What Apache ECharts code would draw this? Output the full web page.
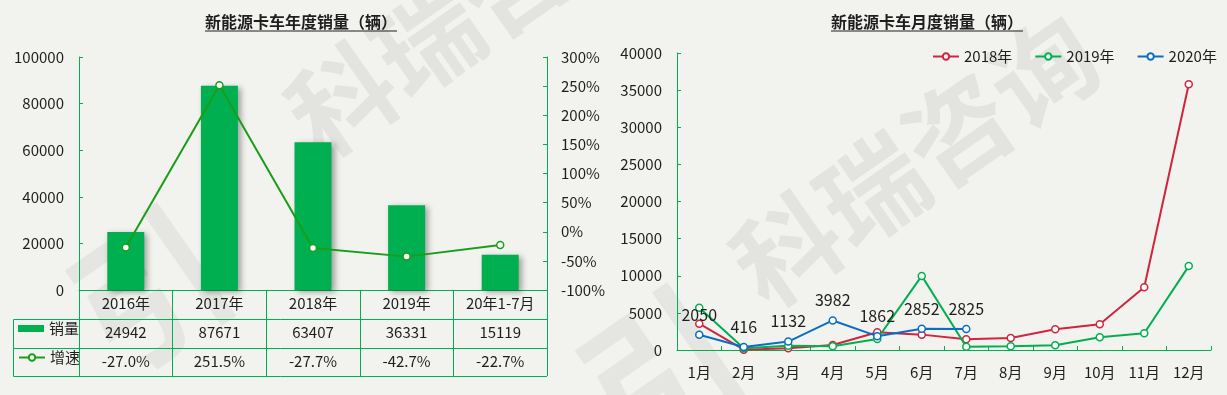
<!DOCTYPE html>
<html>
<head>
<meta charset="utf-8">
<script src="https://cdn.jsdelivr.net/npm/echarts@6/dist/echarts.min.js"></script>
<style>
html,body{margin:0;padding:0;background:#f2f3ee;}
#c{width:1227px;height:395px;}
</style>
</head>
<body>
<div id="c"></div>
<script>
// ---- data ----
const yearCats = ['2016年', '2017年', '2018年', '2019年', '20年1-7月'];
const yearSales = [24942, 87671, 63407, 36331, 15119];
const yearGrowth = [-27.0, 251.5, -27.7, -42.7, -22.7];
const leftTicks = { min: 0, max: 100000, interval: 20000 };
const rightTicks = { min: -100, max: 300, interval: 50 };

const months = ['1月', '2月', '3月', '4月', '5月', '6月', '7月', '8月', '9月', '10月', '11月', '12月'];
const sales2018 = [3550, 50, 230, 670, 2380, 2070, 1440, 1620, 2790, 3460, 8450, 35800];
const sales2019 = [5700, 230, 580, 500, 1480, 9980, 450, 490, 630, 1710, 2250, 11300];
const sales2020 = [2050, 416, 1132, 3982, 1862, 2852, 2825];
const monthTicks = { min: 0, max: 40000, interval: 5000 };

// ---- style ----
const FONT = '"Noto Sans CJK SC", "Noto Sans", sans-serif';
const GREEN = '#00b050';
const LINEGREEN = '#189e18';
const RED = '#d0243f';
const BLUE = '#0a6fc2';
const TXT = '#1e1e1e';

const chart = echarts.init(document.getElementById('c'), null, { renderer: 'canvas' });

const wmStyle = { fill: 'rgba(140,140,140,0.15)', fontSize: 104, fontWeight: 'bold', fontFamily: FONT, align: 'center', verticalAlign: 'middle' };
const logoStyle = Object.assign({}, wmStyle, { fontSize: 150, fill: 'rgba(140,140,140,0.12)' });

const tableLine = (x1, y1, x2, y2) => ({ type: 'line', silent: true, z: 10, shape: { x1, y1, x2, y2 }, style: { stroke: GREEN, lineWidth: 1 } });
const plain = v => String(v);

const option = {
  backgroundColor: '#f2f3ee',
  textStyle: { fontFamily: FONT },
  animation: false,
  graphic: [
    // watermarks
    { type: 'text', silent: true, z: 0, x: 470, y: 10, rotation: 0.61, style: Object.assign({ text: '科瑞咨询' }, wmStyle) },
    { type: 'text', silent: true, z: 0, x: 150, y: 290, rotation: 0.61, style: Object.assign({ text: '引' }, logoStyle) },
    { type: 'text', silent: true, z: 0, x: 915, y: 160, rotation: 0.61, style: Object.assign({ text: '科瑞咨询' }, wmStyle) },
    { type: 'text', silent: true, z: 0, x: 660, y: 370, rotation: 0.61, style: Object.assign({ text: '引' }, logoStyle) },
    // titles
    { type: 'text', z: 10, x: 301, y: 22, style: { text: '新能源卡车年度销量（辆）', fontSize: 16, fontWeight: 'bold', fill: TXT, fontFamily: FONT, align: 'center', verticalAlign: 'middle' } },
    { type: 'line', z: 10, shape: { x1: 205, y1: 31, x2: 397, y2: 31 }, style: { stroke: TXT, lineWidth: 1 } },
    { type: 'text', z: 10, x: 927, y: 22, style: { text: '新能源卡车月度销量（辆）', fontSize: 16, fontWeight: 'bold', fill: TXT, fontFamily: FONT, align: 'center', verticalAlign: 'middle' } },
    { type: 'line', z: 10, shape: { x1: 831, y1: 31, x2: 1023, y2: 31 }, style: { stroke: TXT, lineWidth: 1 } },
    // data table frame
    tableLine(13.5, 319.5, 547, 319.5),
    tableLine(13.5, 348.5, 547, 348.5),
    tableLine(13.5, 376.5, 547, 376.5),
    tableLine(13.5, 319.5, 13.5, 376.5)
  ],
  legend: [
    { data: [{ name: '销量', icon: 'rect' }], left: 18, top: 321, padding: 0, itemWidth: 26, itemHeight: 7, itemGap: 5,
      textStyle: { fontSize: 15, color: TXT, fontFamily: FONT } },
    { data: ['增速'], left: 18, top: 350, padding: 0, itemWidth: 26, itemHeight: 8,
      textStyle: { fontSize: 15, color: TXT, fontFamily: FONT } },
    { data: ['2018年', '2019年', '2020年'], left: 932, top: 49, padding: 0, itemWidth: 26, itemHeight: 8, itemGap: 22,
      textStyle: { fontSize: 15, color: TXT, fontFamily: FONT } }
  ],
  grid: [
    { left: 79, top: 57, width: 468, height: 233 },
    { left: 677, top: 53, width: 534, height: 297 }
  ],
  xAxis: [
    { gridIndex: 0, type: 'category', data: yearCats,
      axisLine: { lineStyle: { color: GREEN, width: 1 } },
      axisTick: { show: true, length: 86, lineStyle: { color: GREEN } },
      axisLabel: { margin: 6, fontSize: 15, color: TXT, interval: 0 } },
    { gridIndex: 0, type: 'category', data: yearSales.map(v => String(v)), position: 'bottom', offset: 29,
      axisLine: { show: false }, axisTick: { show: false },
      axisLabel: { margin: 6, fontSize: 15, color: TXT, interval: 0 } },
    { gridIndex: 0, type: 'category', data: yearGrowth.map(v => v.toFixed(1) + '%'), position: 'bottom', offset: 58,
      axisLine: { show: false }, axisTick: { show: false },
      axisLabel: { margin: 6, fontSize: 15, color: TXT, interval: 0 } },
    { gridIndex: 1, type: 'category', data: months,
      axisLine: { lineStyle: { color: GREEN, width: 1 } },
      axisTick: { show: true, inside: true, length: 4, lineStyle: { color: GREEN } },
      axisLabel: { margin: 15, fontSize: 15, color: TXT, interval: 0 } }
  ],
  yAxis: [
    { gridIndex: 0, type: 'value', min: leftTicks.min, max: leftTicks.max, interval: leftTicks.interval,
      axisLine: { show: true, lineStyle: { color: GREEN } },
      axisTick: { show: true, inside: true, length: 4, lineStyle: { color: GREEN } },
      splitLine: { show: false },
      axisLabel: { margin: 15, fontSize: 15, color: TXT, formatter: plain } },
    { gridIndex: 0, type: 'value', position: 'right', min: rightTicks.min, max: rightTicks.max, interval: rightTicks.interval,
      axisLine: { show: true, lineStyle: { color: GREEN } },
      axisTick: { show: true, inside: true, length: 4, lineStyle: { color: GREEN } },
      splitLine: { show: false },
      axisLabel: { margin: 14, fontSize: 15, color: TXT, formatter: v => v + '%' } },
    { gridIndex: 1, type: 'value', min: monthTicks.min, max: monthTicks.max, interval: monthTicks.interval,
      axisLine: { show: true, lineStyle: { color: GREEN } },
      axisTick: { show: true, inside: true, length: 4, lineStyle: { color: GREEN } },
      splitLine: { show: false },
      axisLabel: { margin: 15, fontSize: 15, color: TXT, formatter: plain } }
  ],
  series: [
    { name: '销量', type: 'bar', xAxisIndex: 0, yAxisIndex: 0, data: yearSales, barWidth: 37,
      itemStyle: { color: GREEN, shadowColor: 'rgba(0,0,0,0.35)', shadowBlur: 6, shadowOffsetX: 3, shadowOffsetY: 2 } },
    { name: '增速', type: 'line', xAxisIndex: 0, yAxisIndex: 1, data: yearGrowth, z: 5,
      symbol: 'circle', symbolSize: 7,
      lineStyle: { color: LINEGREEN, width: 2 },
      itemStyle: { color: '#ffffff', borderColor: LINEGREEN, borderWidth: 1.5 } },
    { name: '2018年', type: 'line', xAxisIndex: 3, yAxisIndex: 2, data: sales2018, z: 3,
      symbol: 'circle', symbolSize: 7,
      lineStyle: { color: RED, width: 2 },
      itemStyle: { color: '#ffffff', borderColor: RED, borderWidth: 1.5 } },
    { name: '2019年', type: 'line', xAxisIndex: 3, yAxisIndex: 2, data: sales2019, z: 4,
      symbol: 'circle', symbolSize: 7,
      lineStyle: { color: GREEN, width: 2 },
      itemStyle: { color: '#ffffff', borderColor: GREEN, borderWidth: 1.5 } },
    { name: '2020年', type: 'line', xAxisIndex: 3, yAxisIndex: 2, data: sales2020, z: 5,
      symbol: 'circle', symbolSize: 7,
      lineStyle: { color: BLUE, width: 2 },
      itemStyle: { color: '#ffffff', borderColor: BLUE, borderWidth: 1.5 },
      label: { show: true, position: 'top', distance: 8, fontSize: 16, color: TXT, fontFamily: FONT } }
  ]
};
chart.setOption(option);
</script>
</body>
</html>
